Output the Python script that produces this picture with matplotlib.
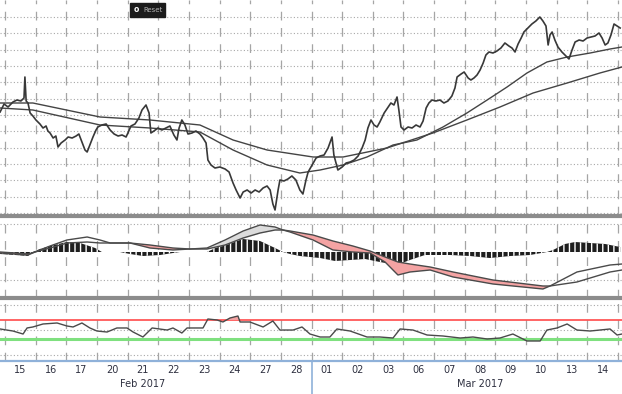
import numpy as np
import matplotlib
matplotlib.use('Agg')
import matplotlib.pyplot as plt
from matplotlib.lines import Line2D
from matplotlib.patches import Rectangle
import matplotlib.transforms as mtrans

# ---------------------------------------------------------------------------
# datos (tiempo en dias habiles desde el 15 de febrero)

dias = ['15', '16', '17', '20', '21', '22', '23', '24', '27', '28',
        '01', '02', '03', '06', '07', '08', '09', '10', '13', '14']
meses = ['Feb 2017', 'Mar 2017']
meses_t = [4.5, 15.5]

precio_t = [-0.16, -0.03, 0.10, 0.26, 0.39, 0.52, 0.62, 0.65, 0.69, 0.75, 0.82, 0.91,
            1.01, 1.14, 1.24, 1.34, 1.40, 1.47, 1.57, 1.66, 1.73, 1.83, 1.96,
            2.06, 2.19, 2.32, 2.41, 2.51, 2.61, 2.68, 2.77, 2.87, 2.97,
            3.03, 3.16, 3.30, 3.43, 3.56, 3.69, 3.82, 3.95,
            4.01, 4.11, 4.24, 4.37, 4.47, 4.60, 4.70, 4.76, 4.86, 4.99,
            5.12, 5.25, 5.38, 5.51, 5.61, 5.68, 5.77, 5.87, 5.97,
            6.10, 6.23, 6.36, 6.46, 6.56, 6.62, 6.72, 6.85,
            7.01, 7.18, 7.31, 7.44, 7.54, 7.67, 7.77, 7.90,
            8.03, 8.16, 8.29, 8.42, 8.55, 8.65, 8.74, 8.81, 8.91, 8.97,
            9.10, 9.23, 9.36, 9.49, 9.62, 9.72, 9.82, 9.89,
            10.02, 10.15, 10.28, 10.41, 10.54, 10.67, 10.73, 10.86,
            11.00, 11.13, 11.26, 11.39, 11.52, 11.65, 11.75, 11.84, 11.94,
            12.04, 12.14, 12.23, 12.37, 12.50, 12.59, 12.69, 12.79, 12.85, 12.92,
            13.02, 13.15, 13.28, 13.41, 13.54, 13.64, 13.74, 13.83, 13.93,
            14.06, 14.19, 14.32, 14.45, 14.58, 14.68, 14.75, 14.88, 14.98,
            15.11, 15.20, 15.30, 15.40, 15.50, 15.60, 15.69, 15.79, 15.92,
            16.05, 16.18, 16.31, 16.44, 16.54, 16.64, 16.74, 16.84, 16.93,
            17.06, 17.19, 17.32, 17.45, 17.55, 17.65, 17.72, 17.78, 17.85, 17.94,
            18.04, 18.17, 18.30, 18.40, 18.50, 18.60, 18.73, 18.86, 18.99,
            19.12, 19.25, 19.38, 19.48, 19.58, 19.67, 19.77, 19.87, 19.97, 20.07]
precio = [101, 109, 106, 111, 113, 112, 115, 136, 112, 110, 100, 97,
          93, 89, 85, 87, 82, 80, 75, 77, 66, 70, 73,
          76, 75, 77, 79, 71, 63, 61, 68, 76, 83,
          86, 88, 89, 83, 79, 77, 78, 76,
          80, 87, 89, 95, 103, 108, 100, 80, 82, 85,
          83, 85, 87, 78, 73, 85, 93, 88, 79,
          80, 82, 79, 75, 70, 53, 48, 45,
          46, 44, 41, 30, 23, 15, 21, 23,
          20, 23, 21, 25, 27, 23, 9, 3, 23, 33,
          32, 34, 37, 33, 23, 19, 33, 41,
          48, 55, 57, 58, 65, 76, 58, 43,
          46, 50, 51, 53, 57, 65, 73, 85, 93,
          88, 86, 91, 100, 106, 110, 108, 116, 103, 86,
          83, 86, 85, 88, 86, 92, 105, 110, 113,
          112, 113, 110, 112, 117, 125, 136, 139, 141,
          135, 133, 135, 138, 143, 150, 158, 161, 160,
          162, 165, 170, 167, 165, 161, 169, 175, 181,
          185, 189, 192, 196, 192, 187, 168, 178, 181, 173,
          166, 161, 157, 154, 163, 171, 173, 172, 175,
          176, 177, 180, 175, 168, 170, 178, 189, 187, 185]

media_lenta_t = [-0.16, 0.91, 3.10, 4.73, 6.36, 7.44, 8.55, 10.05, 11.03,
                 12.46, 13.96, 15.07, 16.15, 17.23, 18.34, 19.41, 20.13]
media_lenta = [110, 110, 96, 93, 88, 73, 63, 56, 56,
               65, 80, 93, 106, 120, 130, 140, 146]

media_rapida_t = [-0.16, 0.91, 3.10, 4.73, 6.36, 7.44, 8.55, 9.62, 10.28, 11.03, 11.81,
                  12.66, 13.44, 14.29, 15.07, 15.73, 16.38, 17.03, 17.68, 18.34,
                  19.09, 19.74, 20.13]
media_rapida = [105, 103, 88, 85, 81, 63, 48, 40, 43, 48, 56,
                68, 73, 86, 100, 113, 126, 140, 151, 156,
                160, 164, 166]

macd_t = [-0.16, 0.33, 0.75, 0.98, 1.47, 2.02, 2.68, 3.10, 3.43, 4.08, 4.73, 5.48,
          6.04, 6.59, 7.18, 7.77, 8.32, 8.81, 9.07, 9.30, 10.05, 10.70, 11.35,
          11.91, 12.40, 12.82, 13.21, 13.87, 14.62, 15.92, 17.55, 17.78, 18.66,
          19.74, 20.13]
macd = [-1, -2, -3, 0, 6, 12, 15, 12, 9, 9, 4, 2,
        3, 4, 12, 21, 27, 25, 22, 20, 12, 2, 0,
        -1, -10, -23, -20, -18, -25, -32, -37, -34, -20,
        -13, -12]
senal = [0, -1, -2, 0, 4, 9, 10, 9, 9, 9, 7, 4,
         3, 3, 7, 14, 19, 22, 22, 21, 17, 11, 6,
         1, -5, -10, -12, -15, -20, -28, -34, -34, -30,
         -20, -18]

hist_t = [-0.16, 0.33, 0.75, 0.91, 1.14, 1.47, 2.02, 2.45, 2.94, 3.16, 3.75, 4.08,
          4.50, 5.06, 5.48, 5.71, 6.59, 7.01, 7.77, 8.32, 8.81, 9.07, 9.30, 9.62,
          10.28, 10.77, 11.26, 11.75, 12.23, 12.79, 13.21, 13.70, 14.52, 15.17,
          15.82, 16.48, 17.13, 17.68, 17.88, 18.27, 18.60, 19.09, 19.58, 20.07]
hist = [-2, -3, -4, 0, 3, 6, 10, 9, 4, 0, 0, -2,
        -4, -3, -1, 0, 0, 6, 13, 11, 4, 0, -2, -4,
        -6, -9, -8, -7, -10, -13, -8, -3, -3, -4,
        -6, -4, -3, 0, 2, 8, 10, 9, 8, 5]

rsi_t = [-0.16, 0.26, 0.59, 0.72, 0.91, 1.24, 1.70, 2.02, 2.22, 2.51, 2.77, 3.00,
         3.33, 3.65, 3.98, 4.18, 4.50, 4.80, 5.29, 5.48, 5.77, 5.94, 6.46, 6.62,
         6.92, 7.11, 7.34, 7.60, 7.67, 7.99, 8.42, 8.74, 8.97, 9.40, 9.69, 9.95,
         10.28, 10.60, 10.83, 11.26, 11.81, 12.23, 12.66, 12.89, 13.31, 13.77,
         14.29, 14.85, 15.27, 15.73, 16.15, 16.57, 17.03, 17.46, 17.68, 18.01,
         18.34, 18.66, 19.09, 19.41, 19.74, 19.97, 20.13]
rsi = [51.1, 46.8, 40.5, 53.2, 55.3, 61.6, 63.7, 57.4, 55.3, 63.7, 53.2, 46.8,
       44.7, 53.2, 53.2, 44.7, 34.2, 53.2, 48.9, 53.2, 42.6, 53.2, 53.2, 72.1,
       70.0, 65.8, 74.2, 78.4, 65.8, 65.8, 55.3, 67.9, 48.9, 48.9, 55.3, 40.5,
       34.2, 34.2, 51.1, 46.8, 34.2, 34.2, 32.1, 51.1, 48.9, 38.4,
       36.3, 32.1, 34.2, 30.0, 32.1, 40.5, 25.8, 25.8, 48.9, 53.2,
       61.6, 48.9, 46.8, 48.9, 51.1, 38.4, 40.5]
rsi_alto = 70
rsi_bajo = 30

# ---------------------------------------------------------------------------
# figura

W, H = 622.0, 394.0
fig = plt.figure(figsize=(W / 100, H / 100), dpi=100)
fig.patch.set_facecolor('white')

def ejes(arriba, abajo):
    ax = fig.add_axes([0, 1 - abajo / H, 1, (abajo - arriba) / H])
    ax.set_xlim(-0.163, 20.13)
    ax.axis('off')
    return ax

ax_p = ejes(0, 215)
ax_m = ejes(217, 298)
ax_r = ejes(298, 361)

ax_p.set_ylim(-2, 213)
ax_m.set_ylim(-46, 35)
ax_r.set_ylim(-16.3, 116.3)

grid_h = {ax_p: np.linspace(0, 196, 13), ax_m: [28, -28], ax_r: [101.6, 48.9, -3.7]}
for ax, niveles in grid_h.items():
    for v in niveles:
        ax.axhline(v, color='#a8a8a8', lw=0.8, ls=(0, (1, 2)), zorder=1)
    for i in range(21):
        ax.axvline(i, color='#a5a5a5', lw=0.9, ls=(0, (7, 6)), zorder=1)

# precio y medias
ax_p.plot(precio_t, precio, color='#383838', lw=1.2, zorder=3)
ax_p.plot(media_lenta_t, media_lenta, color='#444444', lw=1.0, zorder=2)
ax_p.plot(media_rapida_t, media_rapida, color='#444444', lw=1.0, zorder=2)

# macd
macd_a = np.array(macd)
senal_a = np.array(senal)
macd_ta = np.array(macd_t)
ax_m.fill_between(hist_t, 0, hist, facecolor='#1e1e1e', edgecolor='white',
                  hatch='|||', linewidth=0, zorder=2)
ax_m.fill_between(macd_t, macd_a, senal_a,
                  where=(macd_a >= senal_a) & (macd_ta > 6) & (macd_ta < 9.5),
                  interpolate=True, color='#dcdcdc', lw=0, zorder=3)
ax_m.fill_between(macd_t, macd_a, senal_a, where=macd_a < senal_a, interpolate=True,
                  color='#f4a3a3', lw=0, zorder=3)
ax_m.plot(macd_t, macd, color='#4a4a4a', lw=1.0, zorder=4)
ax_m.plot(macd_t, senal, color='#4a4a4a', lw=1.0, zorder=4)

# rsi
rsi_a = np.array(rsi)
ax_r.axhline(rsi_alto, color='#ff4a4a', lw=1.2, zorder=2)
ax_r.axhline(rsi_bajo, color='#7fe07f', lw=2.2, zorder=2)
ax_r.fill_between(rsi_t, rsi_alto, rsi_a, where=rsi_a > rsi_alto, interpolate=True,
                  color='#f4a3a3', lw=0, zorder=2)
ax_r.plot(rsi_t, rsi, color='#4a4a4a', lw=1.0, zorder=3)

# separadores
for y in [216, 298]:
    fig.add_artist(Line2D([0, 1], [1 - y / H] * 2, color='#8c8c8c', lw=3))

# eje de fechas
tr = mtrans.blended_transform_factory(ax_r.transData, ax_r.transAxes)
ax_r.plot([-0.2, 20.2], [0, 0], transform=tr, color='#8fb1d9', lw=1.6, clip_on=False)
ax_r.plot([10, 10], [0, -0.55], transform=tr, color='#8fb1d9', lw=1.2, clip_on=False)
for i, d in enumerate(dias):
    ax_r.text(i + 0.5, -0.14, d, transform=tr, ha='center', va='center',
              fontsize=7, color='#2e3040', family='DejaVu Sans')
for t, m in zip(meses_t, meses):
    ax_r.text(t, -0.37, m, transform=tr, ha='center', va='center',
              fontsize=7, color='#2e3040', family='DejaVu Sans')

# boton reset
fig.add_artist(Rectangle((130 / W, 1 - 17 / H), 35 / W, 14 / H,
                         transform=fig.transFigure, color='#1c1c1c'))
fig.text(136 / W, 1 - 10 / H, 'o', color='white', fontsize=5.5, ha='center', va='center',
         fontweight='bold')
fig.text(153 / W, 1 - 10 / H, 'Reset', color='#b5b5b5', fontsize=5, ha='center', va='center')

fig.savefig('out.png', dpi=100)
